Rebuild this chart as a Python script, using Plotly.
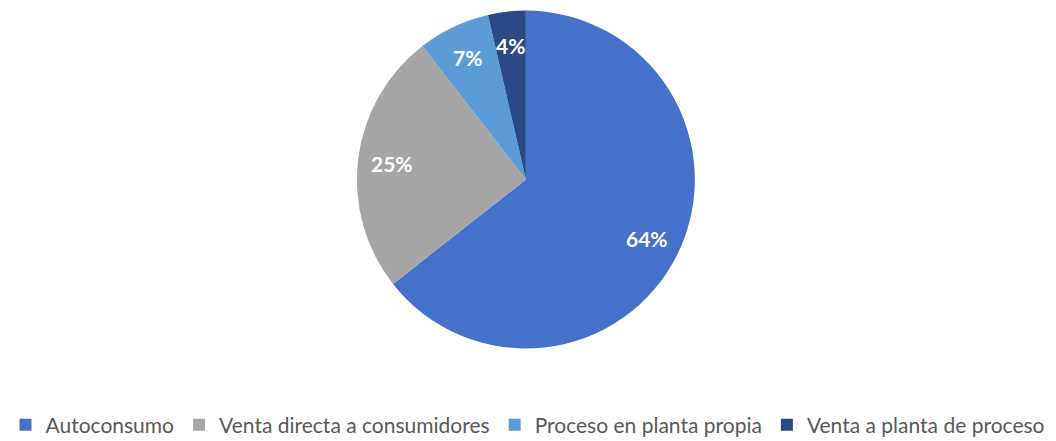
import math
import plotly.graph_objects as go

categories = ["Autoconsumo", "Venta directa a consumidores", "Proceso en planta propia", "Venta a planta de proceso"]
values = [64.4, 25.1, 6.9, 3.6]
text_labels = ["64%", "25%", "7%", "4%"]
colors = ["#4471C9", "#A5A5A5", "#5A9BD8", "#2B4A85"]

W, H = 1056, 441
dom_x = [0.338, 0.658]
dom_y = [0.2086, 0.977]

fig = go.Figure(go.Pie(
    labels=categories,
    values=values,
    textinfo="none",
    marker=dict(colors=colors, line=dict(width=0)),
    sort=False,
    direction="clockwise",
    rotation=0,
    domain=dict(x=dom_x, y=dom_y),
    hoverinfo="label+percent",
))

# data labels placed along each slice's mid-angle (derived from values)
cx = (dom_x[0] + dom_x[1]) / 2
cy = (dom_y[0] + dom_y[1]) / 2
radius_px = min((dom_x[1] - dom_x[0]) * W, (dom_y[1] - dom_y[0]) * H) / 2
label_r = 0.80 * radius_px
total = sum(values)
cum = 0.0
annotations = []
for v, t in zip(values, text_labels):
    mid = (cum + v / 2) / total * 2 * math.pi
    cum += v
    dx = label_r * math.sin(mid)
    dy = label_r * math.cos(mid)
    annotations.append(dict(
        x=cx + dx / W, y=cy + dy / H, xref="paper", yref="paper",
        text=t, showarrow=False, xanchor="center", yanchor="middle",
        font=dict(family="Lato", size=21, color="white", weight="bold"),
    ))

fig.update_layout(
    width=W, height=H,
    margin=dict(l=0, r=0, t=0, b=0, autoexpand=False),
    paper_bgcolor="white",
    plot_bgcolor="white",
    showlegend=True,
    annotations=annotations,
    legend=dict(
        orientation="h",
        x=0.5, xanchor="center",
        y=0.036, yanchor="middle",
        font=dict(family="Lato", size=21, color="#595959"),
        itemwidth=30,
        traceorder="normal",
    ),
)

fig.write_html("out.html")
